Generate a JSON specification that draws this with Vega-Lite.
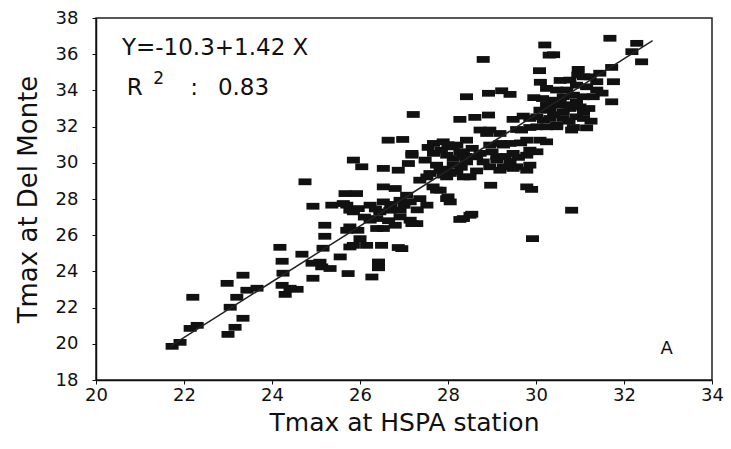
{
  "$schema": "https://vega.github.io/schema/vega-lite/v6.json",
  "width": 616,
  "height": 362,
  "autosize": {"type": "none"},
  "padding": {"left": 96, "top": 18, "right": 19, "bottom": 69},
  "background": "white",
  "config": {
    "font": "DejaVu Sans",
    "view": {"stroke": "#222", "strokeWidth": 1.5}
  },
  "datasets": {
    "obs": [
      {"hspa":21.73,"delmonte":19.86},{"hspa":21.91,"delmonte":20.08},{"hspa":22.14,"delmonte":20.85},{"hspa":22.30,"delmonte":21.02},{"hspa":22.20,"delmonte":22.57},
      {"hspa":23.00,"delmonte":20.52},{"hspa":23.16,"delmonte":20.91},{"hspa":23.34,"delmonte":21.41},{"hspa":23.05,"delmonte":22.02},{"hspa":23.20,"delmonte":22.57},
      {"hspa":22.98,"delmonte":23.34},{"hspa":23.34,"delmonte":23.79},{"hspa":23.43,"delmonte":22.96},{"hspa":23.66,"delmonte":23.07},
      {"hspa":24.18,"delmonte":25.33},{"hspa":24.23,"delmonte":24.56},{"hspa":24.25,"delmonte":23.90},{"hspa":24.23,"delmonte":23.23},{"hspa":24.41,"delmonte":23.07},{"hspa":24.57,"delmonte":23.01},{"hspa":24.30,"delmonte":22.73},
      {"hspa":24.68,"delmonte":24.95},{"hspa":24.93,"delmonte":23.62},{"hspa":24.91,"delmonte":24.45},{"hspa":25.09,"delmonte":24.51},{"hspa":25.16,"delmonte":25.28},
      {"hspa":24.93,"delmonte":27.60},{"hspa":25.20,"delmonte":26.55},{"hspa":25.20,"delmonte":25.94},{"hspa":24.75,"delmonte":28.95},
      {"hspa":25.66,"delmonte":28.30},{"hspa":25.92,"delmonte":28.30},{"hspa":25.36,"delmonte":27.66},{"hspa":25.62,"delmonte":27.75},{"hspa":25.77,"delmonte":27.38},{"hspa":25.85,"delmonte":27.29},
      {"hspa":25.85,"delmonte":30.15},{"hspa":25.77,"delmonte":26.46},{"hspa":25.95,"delmonte":26.27},{"hspa":25.55,"delmonte":24.80},{"hspa":25.77,"delmonte":25.35},{"hspa":25.13,"delmonte":24.25},{"hspa":25.32,"delmonte":24.16},
      {"hspa":25.73,"delmonte":23.88},{"hspa":26.27,"delmonte":23.69},
      {"hspa":26.04,"delmonte":29.78},{"hspa":26.53,"delmonte":29.69},{"hspa":26.87,"delmonte":29.59},{"hspa":27.10,"delmonte":29.96},{"hspa":27.18,"delmonte":30.42},{"hspa":27.48,"delmonte":30.15},
      {"hspa":26.64,"delmonte":31.25},{"hspa":26.97,"delmonte":31.29},{"hspa":26.53,"delmonte":28.67},{"hspa":26.80,"delmonte":28.58},
      {"hspa":25.70,"delmonte":27.66},{"hspa":25.96,"delmonte":27.47},{"hspa":26.23,"delmonte":27.66},{"hspa":26.53,"delmonte":27.84},{"hspa":26.45,"delmonte":27.29},{"hspa":26.91,"delmonte":27.93},{"hspa":27.06,"delmonte":28.21},
      {"hspa":27.14,"delmonte":27.84},{"hspa":27.36,"delmonte":28.02},{"hspa":27.52,"delmonte":27.66},{"hspa":27.74,"delmonte":28.49},{"hspa":27.97,"delmonte":28.02},{"hspa":28.05,"delmonte":27.84},
      {"hspa":26.23,"delmonte":26.83},{"hspa":26.38,"delmonte":26.92},{"hspa":26.91,"delmonte":27.38},{"hspa":26.91,"delmonte":27.01},{"hspa":26.80,"delmonte":26.55},{"hspa":26.53,"delmonte":26.37},{"hspa":27.14,"delmonte":26.83},{"hspa":27.29,"delmonte":26.64},
      {"hspa":28.35,"delmonte":26.92},{"hspa":28.50,"delmonte":27.10},{"hspa":25.70,"delmonte":26.27},
      {"hspa":26.00,"delmonte":25.81},{"hspa":25.85,"delmonte":25.44},{"hspa":26.15,"delmonte":25.44},{"hspa":26.49,"delmonte":25.44},{"hspa":26.87,"delmonte":25.32},
      {"hspa":26.42,"delmonte":24.52},{"hspa":26.42,"delmonte":24.20},{"hspa":26.95,"delmonte":25.26},{"hspa":27.18,"delmonte":26.64},
      {"hspa":27.82,"delmonte":28.49},{"hspa":28.00,"delmonte":28.12},{"hspa":26.68,"delmonte":27.38},{"hspa":26.38,"delmonte":26.37},
      {"hspa":26.10,"delmonte":27.00},{"hspa":26.65,"delmonte":26.80},{"hspa":26.70,"delmonte":27.70},{"hspa":27.00,"delmonte":27.65},{"hspa":26.35,"delmonte":27.45},{"hspa":27.30,"delmonte":27.40},
      {"hspa":31.68,"delmonte":36.88},{"hspa":32.29,"delmonte":36.60},{"hspa":32.18,"delmonte":36.14},{"hspa":32.40,"delmonte":35.58},{"hspa":30.20,"delmonte":36.51},{"hspa":30.30,"delmonte":35.95},{"hspa":30.40,"delmonte":35.97},
      {"hspa":28.80,"delmonte":35.71},{"hspa":30.08,"delmonte":35.09},{"hspa":30.96,"delmonte":35.16},{"hspa":31.72,"delmonte":35.27},{"hspa":31.76,"delmonte":34.48},{"hspa":31.72,"delmonte":33.37},
      {"hspa":28.42,"delmonte":33.65},{"hspa":28.92,"delmonte":33.84},{"hspa":29.22,"delmonte":33.98},{"hspa":29.41,"delmonte":33.78},
      {"hspa":28.27,"delmonte":32.40},{"hspa":28.61,"delmonte":32.51},{"hspa":28.92,"delmonte":32.64},{"hspa":29.48,"delmonte":32.40},{"hspa":29.71,"delmonte":32.58},{"hspa":29.86,"delmonte":32.45},{"hspa":30.17,"delmonte":32.36},
      {"hspa":30.47,"delmonte":32.08},{"hspa":30.81,"delmonte":31.81},{"hspa":31.15,"delmonte":31.93},{"hspa":30.92,"delmonte":32.54},{"hspa":31.08,"delmonte":32.82},
      {"hspa":31.23,"delmonte":34.75},{"hspa":31.38,"delmonte":34.48},{"hspa":31.08,"delmonte":34.75},{"hspa":30.77,"delmonte":34.57},{"hspa":30.92,"delmonte":34.29},{"hspa":31.15,"delmonte":34.20},{"hspa":31.38,"delmonte":34.02},
      {"hspa":30.24,"delmonte":34.11},{"hspa":30.47,"delmonte":34.02},{"hspa":30.70,"delmonte":34.02},{"hspa":30.62,"delmonte":33.65},{"hspa":30.85,"delmonte":33.74},{"hspa":31.08,"delmonte":33.65},{"hspa":31.30,"delmonte":33.65},
      {"hspa":30.39,"delmonte":33.46},{"hspa":30.24,"delmonte":33.19},{"hspa":30.47,"delmonte":33.19},{"hspa":30.70,"delmonte":33.19},{"hspa":30.92,"delmonte":33.37},
      {"hspa":30.09,"delmonte":32.91},{"hspa":30.32,"delmonte":32.91},{"hspa":30.62,"delmonte":32.82},{"hspa":30.77,"delmonte":33.00},{"hspa":31.00,"delmonte":33.09},
      {"hspa":30.02,"delmonte":32.54},{"hspa":30.32,"delmonte":32.45},{"hspa":30.62,"delmonte":32.45},{"hspa":31.08,"delmonte":32.45},
      {"hspa":30.02,"delmonte":31.99},{"hspa":30.24,"delmonte":31.99},{"hspa":30.47,"delmonte":31.99},{"hspa":29.67,"delmonte":31.81},{"hspa":29.86,"delmonte":31.95},
      {"hspa":30.15,"delmonte":33.55},{"hspa":30.55,"delmonte":33.45},{"hspa":30.85,"delmonte":33.20},{"hspa":31.20,"delmonte":33.00},{"hspa":30.40,"delmonte":32.65},{"hspa":30.75,"delmonte":32.30},{"hspa":31.25,"delmonte":32.30},
      {"hspa":30.55,"delmonte":34.55},{"hspa":30.95,"delmonte":34.85},{"hspa":31.45,"delmonte":34.95},{"hspa":31.50,"delmonte":33.85},{"hspa":29.95,"delmonte":33.60},{"hspa":30.10,"delmonte":34.45},{"hspa":30.85,"delmonte":31.95},
      {"hspa":28.73,"delmonte":31.81},{"hspa":28.95,"delmonte":31.81},{"hspa":29.18,"delmonte":31.62},{"hspa":29.56,"delmonte":31.84},{"hspa":29.79,"delmonte":31.25},{"hspa":30.09,"delmonte":31.25},{"hspa":30.24,"delmonte":31.16},
      {"hspa":28.95,"delmonte":30.98},{"hspa":29.26,"delmonte":30.98},{"hspa":29.86,"delmonte":30.70},{"hspa":30.02,"delmonte":30.61},{"hspa":29.79,"delmonte":30.42},
      {"hspa":28.20,"delmonte":30.98},{"hspa":28.35,"delmonte":30.52},{"hspa":28.12,"delmonte":30.24},{"hspa":28.65,"delmonte":30.33},{"hspa":29.11,"delmonte":30.15},{"hspa":29.41,"delmonte":30.05},{"hspa":29.56,"delmonte":29.78},{"hspa":29.86,"delmonte":29.87},{"hspa":29.26,"delmonte":29.78},
      {"hspa":27.21,"delmonte":32.67},{"hspa":27.18,"delmonte":30.52},
      {"hspa":27.67,"delmonte":31.07},{"hspa":27.89,"delmonte":31.16},{"hspa":28.12,"delmonte":30.88},{"hspa":27.67,"delmonte":30.52},{"hspa":27.97,"delmonte":30.42},{"hspa":28.27,"delmonte":30.61},
      {"hspa":27.74,"delmonte":29.87},{"hspa":28.12,"delmonte":29.87},{"hspa":28.42,"delmonte":30.05},{"hspa":27.59,"delmonte":29.41},{"hspa":27.89,"delmonte":29.32},{"hspa":28.20,"delmonte":29.50},{"hspa":28.50,"delmonte":29.22},{"hspa":27.36,"delmonte":29.04},
      {"hspa":28.73,"delmonte":30.52},{"hspa":28.88,"delmonte":31.62},{"hspa":29.18,"delmonte":31.07},{"hspa":29.41,"delmonte":31.07},{"hspa":29.11,"delmonte":30.33},{"hspa":29.48,"delmonte":30.52},
      {"hspa":28.95,"delmonte":29.78},{"hspa":29.18,"delmonte":29.59},{"hspa":29.48,"delmonte":29.69},{"hspa":29.79,"delmonte":29.59},
      {"hspa":27.85,"delmonte":30.70},{"hspa":28.00,"delmonte":31.00},{"hspa":28.40,"delmonte":30.35},{"hspa":28.55,"delmonte":30.80},{"hspa":27.55,"delmonte":30.85},{"hspa":28.30,"delmonte":29.75},{"hspa":27.95,"delmonte":29.65},
      {"hspa":28.65,"delmonte":29.55},{"hspa":28.80,"delmonte":30.05},{"hspa":29.00,"delmonte":30.60},{"hspa":29.30,"delmonte":30.35},{"hspa":29.60,"delmonte":30.30},{"hspa":29.65,"delmonte":31.10},
      {"hspa":28.97,"delmonte":28.76},{"hspa":29.79,"delmonte":28.67},{"hspa":29.90,"delmonte":28.53},{"hspa":30.81,"delmonte":27.38},{"hspa":28.27,"delmonte":26.87},{"hspa":28.54,"delmonte":27.16},{"hspa":29.92,"delmonte":25.81},
      {"hspa":28.35,"delmonte":29.22},{"hspa":28.05,"delmonte":29.41},
      {"hspa":28.42,"delmonte":31.25},{"hspa":27.82,"delmonte":29.59},{"hspa":27.97,"delmonte":29.22},{"hspa":27.52,"delmonte":29.22},{"hspa":27.66,"delmonte":28.67}
    ],
    "fit": [
      {"hspa":21.70,"delmonte":19.88},
      {"hspa":32.65,"delmonte":36.75}
    ],
    "notes": [
      {"kind":"big","hspa":20.59,"delmonte":36.32,"label":"Y=-10.3+1.42 X"},
      {"kind":"big","hspa":20.70,"delmonte":34.16,"label":"R"},
      {"kind":"sup","hspa":21.30,"delmonte":34.63,"label":"2"},
      {"kind":"big","hspa":22.14,"delmonte":34.16,"label":":"},
      {"kind":"big","hspa":22.77,"delmonte":34.16,"label":"0.83"},
      {"kind":"panel","hspa":32.97,"delmonte":19.73,"label":"A"}
    ]
  },
  "encoding": {
    "x": {
      "field": "hspa",
      "type": "quantitative",
      "scale": {"domain": [20, 34], "nice": false, "zero": false},
      "axis": {
        "values": [20, 22, 24, 26, 28, 30, 32, 34],
        "grid": false,
        "title": "Tmax at HSPA station",
        "titleFontSize": 25,
        "titleFontWeight": "normal",
        "titleColor": "#111",
        "titleX": 308,
        "titleY": 42,
        "titleBaseline": "middle",
        "labelFontSize": 18,
        "labelColor": "#111",
        "labelPadding": 2,
        "labelFlush": false,
        "labelOverlap": false,
        "tickSize": 4,
        "tickColor": "#111",
        "domainColor": "#111",
        "domainWidth": 1.5
      }
    },
    "y": {
      "field": "delmonte",
      "type": "quantitative",
      "scale": {"domain": [18, 38], "nice": false, "zero": false},
      "axis": {
        "values": [18, 20, 22, 24, 26, 28, 30, 32, 34, 36, 38],
        "grid": false,
        "title": "Tmax at Del Monte",
        "titleFontSize": 26,
        "titleFontWeight": "normal",
        "titleColor": "#111",
        "titleX": -68,
        "titleY": 181,
        "titleBaseline": "middle",
        "labelFontSize": 18,
        "labelColor": "#111",
        "labelPadding": 14,
        "labelFlush": false,
        "labelOverlap": false,
        "tickSize": 4,
        "tickColor": "#111",
        "domainColor": "#111",
        "domainWidth": 1.5
      }
    }
  },
  "layer": [
    {
      "data": {"name": "obs"},
      "mark": {"type": "point", "shape": "M-1,-0.52H1V0.52H-1Z", "filled": true, "size": 169, "color": "#111", "opacity": 1, "strokeWidth": 0}
    },
    {
      "data": {"name": "fit"},
      "mark": {"type": "line", "color": "#222", "strokeWidth": 1.5}
    },
    {
      "data": {"name": "notes"},
      "transform": [{"filter": "datum.kind === 'big'"}],
      "mark": {"type": "text", "align": "left", "baseline": "middle", "fontSize": 23, "color": "#111"},
      "encoding": {"text": {"field": "label"}}
    },
    {
      "data": {"name": "notes"},
      "transform": [{"filter": "datum.kind === 'sup'"}],
      "mark": {"type": "text", "align": "left", "baseline": "middle", "fontSize": 17, "color": "#111"},
      "encoding": {"text": {"field": "label"}}
    },
    {
      "data": {"name": "notes"},
      "transform": [{"filter": "datum.kind === 'panel'"}],
      "mark": {"type": "text", "align": "center", "baseline": "middle", "fontSize": 18, "color": "#111"},
      "encoding": {"text": {"field": "label"}}
    }
  ]
}
